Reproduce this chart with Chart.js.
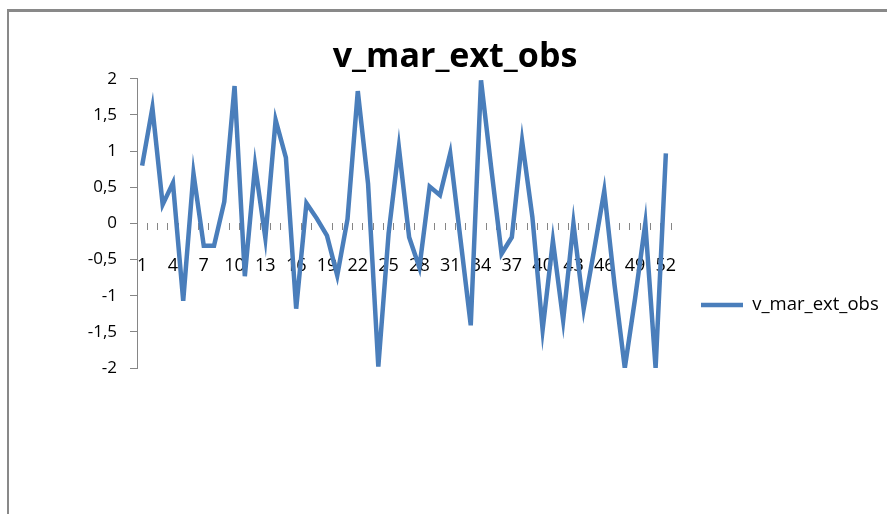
<!doctype html>
<html>
<head>
<title>v_mar_ext_obs</title>
<script src="https://cdn.jsdelivr.net/npm/chart.js@4.4.0/dist/chart.umd.min.js"></script>
<style>
body { margin: 0; background: #fff; overflow: hidden; }
#container { position: relative; width: 887px; height: 514px; }
#frame {
	position: absolute; left: 7px; top: 9px; right: -10px; bottom: -10px;
	border-top: 3px solid #898989; border-left: 2px solid #898989;
	pointer-events: none;
}
</style>
</head>
<body>
	<div id="container">
		<canvas id="canvas" width="887" height="514"></canvas>
		<div id="frame"></div>
	</div>

	<script>
	var seriesName = "v_mar_ext_obs";
	var labels = ["1","2","3","4","5","6","7","8","9","10","11","12","13","14","15","16","17","18","19","20",
		"21","22","23","24","25","26","27","28","29","30","31","32","33","34","35","36","37","38","39","40",
		"41","42","43","44","45","46","47","48","49","50","51","52"];
	var values = [0.8, 1.6, 0.26, 0.56, -1.07, 0.69, -0.31, -0.31, 0.3, 1.9,
		-0.73, 0.8, -0.2, 1.43, 0.91, -1.18, 0.28, 0.07, -0.17, -0.72,
		0.06, 1.83, 0.55, -1.98, -0.14, 1.05, -0.19, -0.61, 0.51, 0.39,
		0.97, -0.22, -1.41, 1.98, 0.76, -0.42, -0.19, 1.14, 0.09, -1.47,
		-0.24, -1.34, 0.0, -1.18, -0.38, 0.45, -0.85, -2.0, -1.04, 0.0,
		-2.0, 0.97];
	// y tick labels, bottom to top (comma decimals as in the original)
	var yTickLabels = ["-2", "-1,5", "-1", "-0,5", "0", "0,5", "1", "1,5", "2"];

	Chart.defaults.font.family = "'Open Sans', 'Noto Sans', sans-serif";
	Chart.defaults.color = "#000";

	var axisGrey = "#868686";
	var ctx = document.getElementById('canvas').getContext('2d');
	window.myLine = new Chart(ctx, {
		type: 'line',
		data: {
			labels: labels,
			datasets: [{
				label: seriesName,
				data: values,
				borderColor: "#4a7ebb",
				backgroundColor: "#4a7ebb",
				borderWidth: 4.5,
				pointRadius: 0,
				tension: 0,
				fill: false
			}]
		},
		options: {
			responsive: false,
			animation: false,
			devicePixelRatio: 1,
			layout: {
				// x axis sits on y=0, so it takes no room at the bottom
				padding: { left: 23, right: 0, top: 0, bottom: 146 }
			},
			plugins: {
				title: {
					display: true,
					text: seriesName,
					font: { size: 34, weight: 'bold' },
					padding: { top: 37, bottom: 1 }
				},
				legend: {
					position: 'right',
					fullSize: false,
					// empty title only pushes the item down to where excel had it
					title: {
						display: true,
						text: ' ',
						font: { size: 10 },
						padding: { top: 151, bottom: 0 }
					},
					labels: {
						usePointStyle: true,
						pointStyle: 'line',
						pointStyleWidth: 42,
						padding: 30,
						font: { size: 18.5 }
					}
				},
				tooltip: { enabled: false }
			},
			scales: {
				x: {
					position: { y: 0 },
					offset: true,
					border: { display: false },
					grid: {
						offset: true,
						drawOnChartArea: false,
						tickLength: 7,
						color: axisGrey
					},
					ticks: {
						autoSkip: false,
						maxRotation: 0,
						padding: 25,
						font: { size: 18 },
						callback: function(value, index) {
							return index % 3 === 0 ? labels[index] : '';
						}
					}
				},
				y: {
					min: -2,
					max: 2,
					border: { display: true, color: axisGrey },
					grid: {
						drawOnChartArea: false,
						tickLength: 7,
						color: axisGrey
					},
					ticks: {
						stepSize: 0.5,
						padding: 13,
						font: { size: 17 },
						callback: function(value, index) {
							return yTickLabels[index];
						}
					},
					afterFit: function(scale) { scale.width = 114; }
				}
			}
		}
	});
	</script>
</body>
</html>
